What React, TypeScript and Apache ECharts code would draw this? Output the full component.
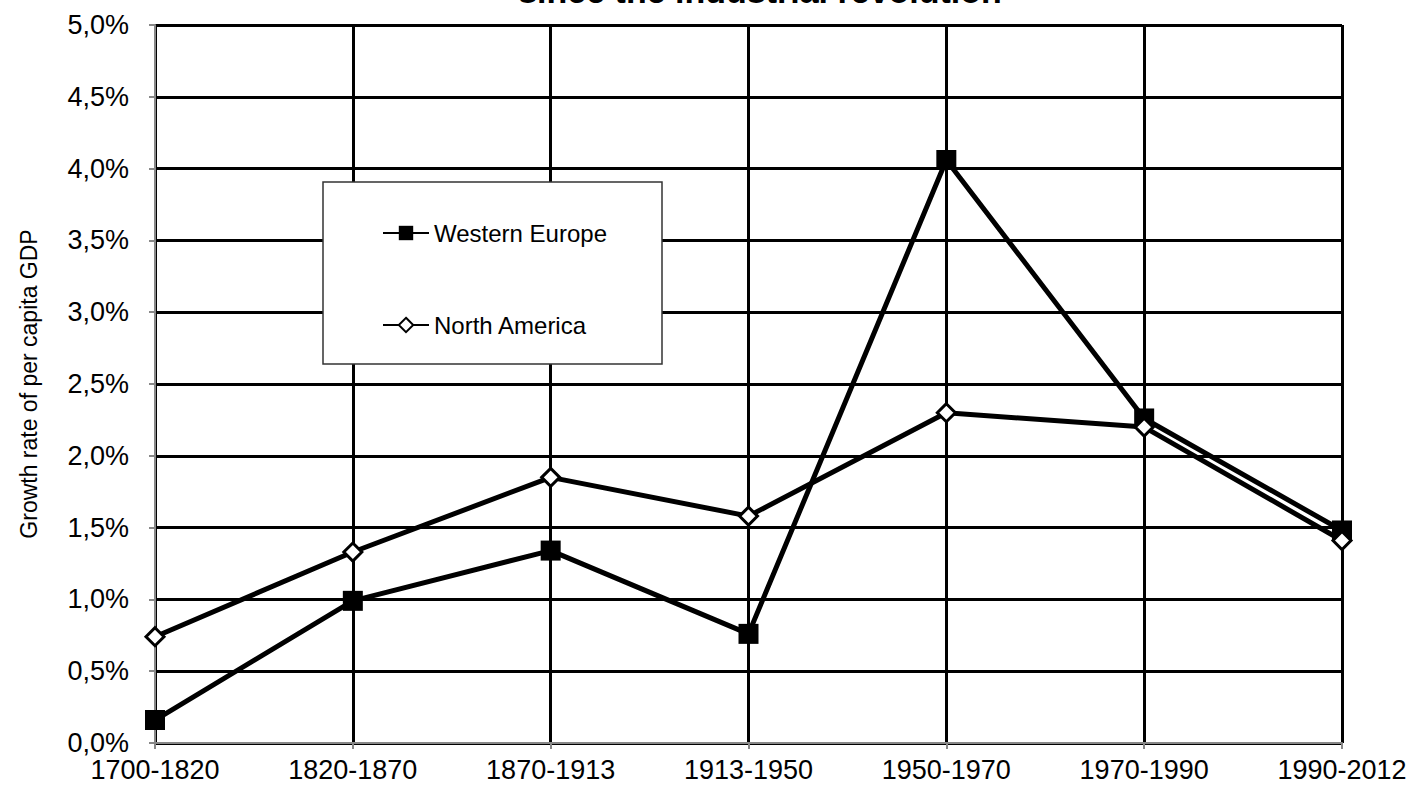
import React, { useEffect, useRef } from "react";
import * as echarts from "echarts";

const categories = ["1700-1820", "1820-1870", "1870-1913", "1913-1950", "1950-1970", "1970-1990", "1990-2012"];
const westernEurope = [0.16, 0.99, 1.34, 0.76, 4.06, 2.26, 1.48];
const northAmerica = [0.74, 1.33, 1.85, 1.58, 2.3, 2.2, 1.41];
const titleLine = "since the industrial revolution";
const yAxisName = "Growth rate of per capita GDP";

export default function App() {
  const ref = useRef<HTMLDivElement>(null);
  useEffect(() => {
    if (!ref.current) return;
    const chart = echarts.init(ref.current, null, { renderer: "svg" });
    const font = "Liberation Sans, Arial, sans-serif";
    chart.setOption({
      animation: false,
      backgroundColor: "#ffffff",
      textStyle: { fontFamily: font },
      grid: { left: 155, right: 81, top: 25, bottom: 48, containLabel: false },
      graphic: [
        {
          type: "text",
          x: 760,
          y: -9,
          style: {
            text: titleLine,
            font: `bold 34px ${font}`,
            fill: "#000",
            align: "center",
            verticalAlign: "middle",
          },
          z: 100,
        },
        {
          type: "rect",
          shape: { x: 323, y: 182, width: 339, height: 182 },
          style: { fill: "#fff", stroke: "#333", lineWidth: 1.5 },
          z: 50,
        },
      ],
      legend: {
        orient: "vertical",
        left: 377,
        top: 216,
        itemWidth: 46,
        itemHeight: 18,
        itemGap: 68,
        z: 60,
        textStyle: { fontSize: 24, lineHeight: 24, color: "#000", fontFamily: font },
        data: ["Western Europe", "North America"],
      },
      xAxis: {
        type: "category",
        data: categories,
        boundaryGap: false,
        axisLine: { lineStyle: { color: "#888", width: 2 } },
        axisTick: { show: true, length: 6, lineStyle: { color: "#888", width: 2 } },
        axisLabel: { fontSize: 27, color: "#000", margin: 13, fontFamily: font },
        splitLine: { show: true, lineStyle: { color: "#000", width: 3 } },
      },
      yAxis: {
        type: "value",
        min: 0,
        max: 5,
        interval: 0.5,
        name: yAxisName,
        nameLocation: "middle",
        nameRotate: 90,
        nameGap: 115,
        nameTextStyle: { fontSize: 23, color: "#000", fontFamily: font },
        axisLine: { show: true, lineStyle: { color: "#888", width: 2 } },
        axisTick: { show: true, length: 6, lineStyle: { color: "#888", width: 2 } },
        axisLabel: {
          fontSize: 27,
          color: "#000",
          margin: 26,
          fontFamily: font,
          formatter: (v: number) => v.toFixed(1).replace(".", ",") + "%",
        },
        splitLine: { show: true, lineStyle: { color: "#000", width: 3 } },
      },
      series: [
        {
          name: "Western Europe",
          type: "line",
          data: westernEurope,
          symbol: "rect",
          symbolSize: 20,
          lineStyle: { color: "#000", width: 5 },
          itemStyle: { color: "#000" },
          z: 5,
        },
        {
          name: "North America",
          type: "line",
          data: northAmerica,
          symbol: "diamond",
          symbolSize: 18,
          lineStyle: { color: "#000", width: 5 },
          itemStyle: { color: "#fff", borderColor: "#000", borderWidth: 3 },
          z: 6,
        },
      ],
    });
    return () => chart.dispose();
  }, []);
  return <div ref={ref} style={{ position: "absolute", left: 0, top: 0, width: 1423, height: 791 }} />;
}
